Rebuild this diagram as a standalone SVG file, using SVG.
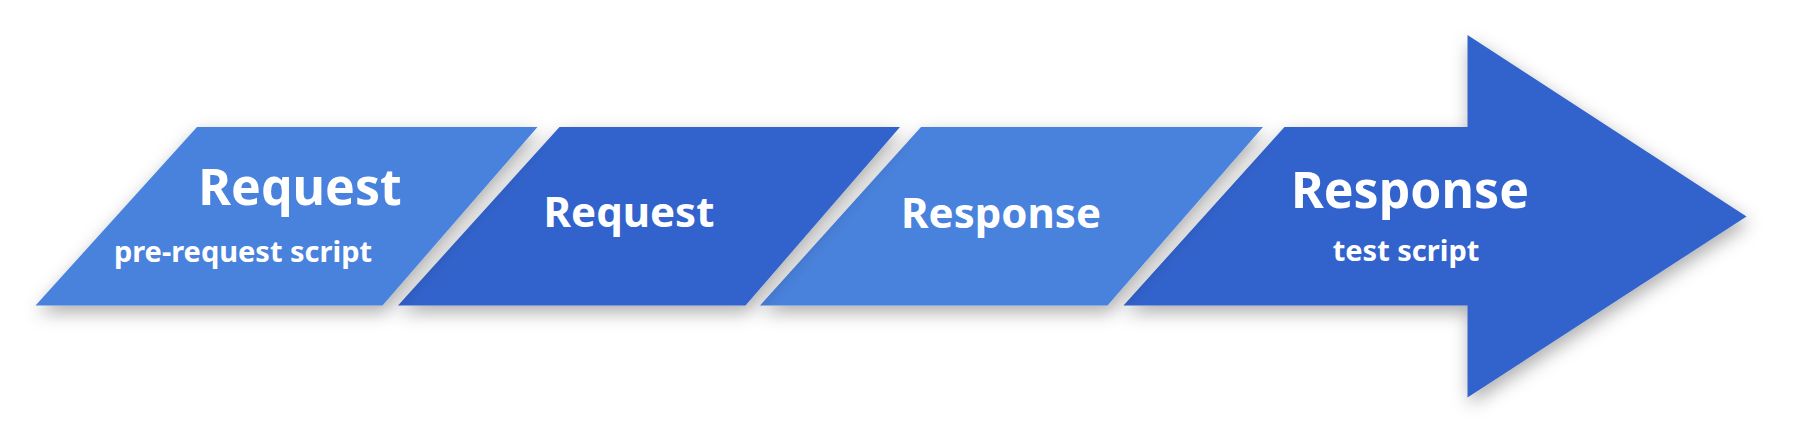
<svg xmlns="http://www.w3.org/2000/svg" width="1797" height="448" viewBox="0 0 1797 448">
  <defs>
    <filter id="sh" x="-20%" y="-30%" width="140%" height="170%">
      <feDropShadow dx="2" dy="7" stdDeviation="9" flood-color="#000" flood-opacity="0.32"/>
    </filter>
  </defs>
  <style>
    .light { fill: #4a82dc; }
    .dark { fill: #3364cc; }
    text { fill: #ffffff; font-family: "Noto Sans", "Open Sans", sans-serif; font-weight: 700; text-anchor: middle; }
    .big { font-size: 50px; }
    .mid { font-size: 42px; }
    .sub { font-size: 29px; }
  </style>
  <rect width="1797" height="448" fill="#ffffff"/>
  <g id="connectors"></g>
  <g id="node-4">
    <polygon class="dark" filter="url(#sh)" points="1284.5,127 1467.5,127 1467.5,35 1746.5,216.5 1467.5,397.5 1467.5,305.5 1123.5,305.5"/>
    <text class="big" x="1410" y="208">Response</text>
    <text class="sub" x="1406" y="261">test script</text>
  </g>
  <g id="node-3">
    <polygon class="light" filter="url(#sh)" points="921,127 1263,127 1107.5,305.5 760,305.5"/>
    <text class="mid" x="1001" y="228">Response</text>
  </g>
  <g id="node-2">
    <polygon class="dark" filter="url(#sh)" points="559.5,127 900,127 745.5,305.5 398,305.5"/>
    <text class="mid" x="629" y="227">Request</text>
  </g>
  <g id="node-1">
    <polygon class="light" filter="url(#sh)" points="197,127 537.5,127 382.5,305.5 35.5,305.5"/>
    <text class="big" x="300" y="205">Request</text>
    <text class="sub" x="243" y="262">pre-request script</text>
  </g>
</svg>
